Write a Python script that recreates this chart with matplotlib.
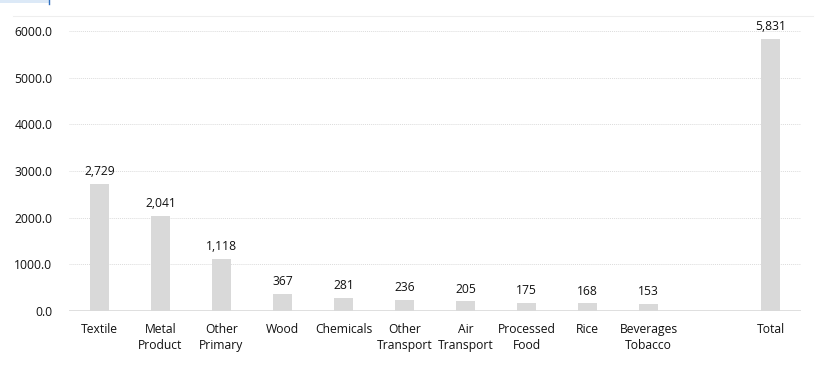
import matplotlib
matplotlib.use('Agg')
import matplotlib.pyplot as plt
from matplotlib.patches import Rectangle
from matplotlib.lines import Line2D
import numpy as np

categories = ['Textile', 'Metal\nProduct', 'Other\nPrimary', 'Wood', 'Chemicals',
              'Other\nTransport', 'Air\nTransport', 'Processed\nFood', 'Rice',
              'Beverages\nTobacco']
values = [2729, 2041, 1118, 367, 281, 236, 205, 175, 168, 153]
total_label = 'Total'
total_value = 5831
yticks = [0, 1000, 2000, 3000, 4000, 5000, 6000]

plt.rcParams['font.family'] = ['Open Sans', 'DejaVu Sans']

fig = plt.figure(figsize=(8.17, 3.67), dpi=100)
ax = fig.add_axes([0.0845, 0.1526, 0.8960, 0.7629])

# leave an empty slot between the sectors and the total
x = list(range(len(categories))) + [len(categories) + 1]
labels = categories + [total_label]
vals = values + [total_value]

bars = ax.bar(x, vals, width=0.31, color='#d9d9d9', zorder=3)
for b, v in zip(bars, vals):
    ax.text(b.get_x() + b.get_width() / 2, v + 120, f'{v:,}',
            ha='center', va='bottom', fontsize=8.7, color='#111111')

ax.set_xlim(-0.5, len(categories) + 1.5)
ax.set_ylim(0, 6000)
ax.set_yticks(yticks)
ax.set_yticklabels([f'{t:.1f}' for t in yticks], fontsize=8.7, color='#111111')
ax.set_xticks(x)
ax.set_xticklabels(labels, fontsize=8.7, color='#111111', linespacing=1.25)
ax.tick_params(axis='x', length=0, pad=9)
ax.tick_params(axis='y', length=0, pad=12)

ax.yaxis.grid(True, linestyle=(0, (1, 1)), color='#dcdcdc', linewidth=0.7, zorder=0)
ax.axhline(0, color='#d9d9d9', linewidth=1.2, zorder=4)
for s in ax.spines.values():
    s.set_visible(False)

# chart frame top edge and the small selection mark at the top-left
fig.add_artist(Line2D([0.016, 0.995], [0.956, 0.956], color='#eeeeee', linewidth=0.8))
fig.add_artist(Rectangle((0, 0.992), 0.06, 0.008, facecolor='#dce9f7', edgecolor='none'))
fig.add_artist(Line2D([0.06, 0.06], [0.99, 1.0], color='#2f6fbf', linewidth=1))

plt.savefig('out.png', dpi=100)
